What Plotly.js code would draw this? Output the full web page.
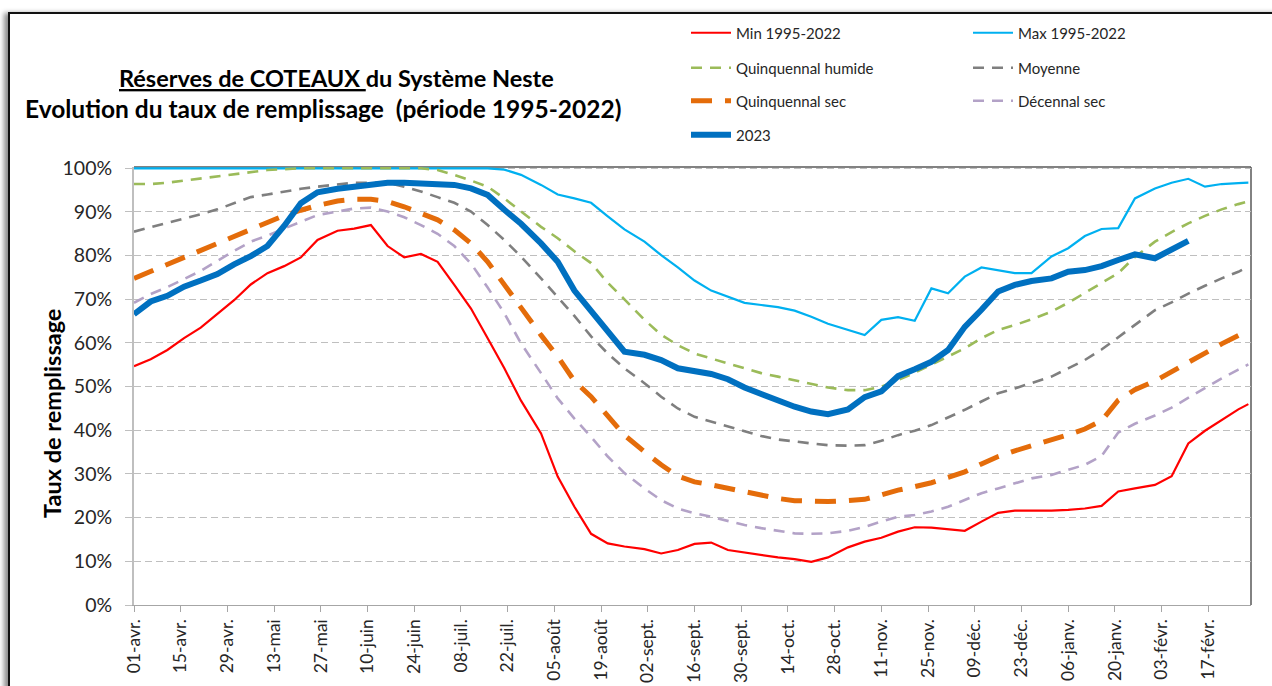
<!DOCTYPE html>
<html><head><meta charset="utf-8">
<script src="https://cdn.plot.ly/plotly-3.0.1.min.js"></script>
<style>
html,body{margin:0;padding:0;background:#fff;overflow:hidden;width:1272px;height:686px}
#chart{position:absolute;left:0;top:0;width:1272px;height:686px}
#frame{position:absolute;left:8px;top:12px;width:1300px;height:700px;border-left:2px solid #111;border-top:2px solid #111;box-shadow:-5px 0 5px -1px rgba(0,0,0,0.45);pointer-events:none}
</style></head><body>
<div id="chart"></div><div id="frame"></div>
<script>
const dates = [
'2022-04-01','2022-04-06','2022-04-11','2022-04-16','2022-04-21','2022-04-26',
'2022-05-01','2022-05-06','2022-05-11','2022-05-16','2022-05-21','2022-05-26',
'2022-06-01','2022-06-06','2022-06-11','2022-06-16','2022-06-21','2022-06-26',
'2022-07-01','2022-07-06','2022-07-11','2022-07-16','2022-07-21','2022-07-26',
'2022-08-01','2022-08-06','2022-08-11','2022-08-16','2022-08-21','2022-08-26',
'2022-09-01','2022-09-06','2022-09-11','2022-09-16','2022-09-21','2022-09-26',
'2022-10-01','2022-10-06','2022-10-11','2022-10-16','2022-10-21','2022-10-26',
'2022-11-01','2022-11-06','2022-11-11','2022-11-16','2022-11-21','2022-11-26',
'2022-12-01','2022-12-06','2022-12-11','2022-12-16','2022-12-21','2022-12-26',
'2023-01-01','2023-01-06','2023-01-11','2023-01-16','2023-01-21','2023-01-26',
'2023-02-01','2023-02-06','2023-02-11','2023-02-16','2023-02-21','2023-02-26',
'2023-03-01'];

const min19952022 = [54.7,56.3,58.4,61.1,63.5,66.6, 69.8,73.4,76.0,77.6,79.6,83.6,
 85.7,86.2,87.0,82.2,79.6,80.4, 78.6,73.3,67.9,61.1,54.2,46.8,
 39.3,29.4,22.5,16.3,14.1,13.4, 12.8,11.8,12.6,14.0,14.3,12.6,
 12.0,11.5,10.9,10.5,9.9,10.9, 13.2,14.5,15.4,16.8,17.8,17.7,
 17.3,17.0,19.1,21.1,21.6,21.6, 21.6,21.8,22.1,22.7,26.0,26.7,
 27.5,29.5,37.0,39.9,42.4,44.8, 46.0];

const max19952022 = [100,100,100,100,100,100, 100,100,100,100,100,100,
 100,100,100,100,100,100, 100,100,100,100,99.7,98.5,
 96.2,94.0,93.1,92.1,89.0,86.0, 83.2,80.1,77.3,74.3,72.0,70.6,
 69.2,68.7,68.2,67.4,66.0,64.4, 63.0,61.8,65.3,65.9,65.1,72.5,
 71.4,75.2,77.3,76.7,76.0,76.0, 79.8,81.7,84.5,86.1,86.3,93.1,
 95.4,96.7,97.6,95.8,96.4,96.6, 96.7];

const quinquennalHumide = [96.4,96.4,96.7,97.2,97.7,98.2, 98.7,99.2,99.6,99.8,100,100,
 100,100,100,100,100,100, 99.6,98.5,97.2,95.8,93.1,90.1,
 86.6,84.0,81.0,78.3,73.8,70.0, 65.3,61.9,59.5,57.6,56.4,55.3,
 54.2,53.1,52.3,51.5,50.7,49.8, 49.2,49.2,50.0,51.5,53.2,55.0,
 56.9,58.8,61.1,63.0,64.1,65.4, 67.2,69.2,71.5,73.7,76.0,79.7,
 83.2,85.4,87.4,89.1,90.6,91.8, 92.4];

const moyenne = [85.5,86.5,87.4,88.4,89.5,90.6, 92.0,93.4,94.0,94.7,95.3,95.8,
 96.3,96.7,96.7,96.7,95.8,94.7, 93.4,92.1,90.1,87.0,83.6,79.8,
 74.8,70.6,66.2,61.5,57.6,54.2, 50.8,47.7,45.0,43.1,42.0,40.8,
 39.7,38.7,37.9,37.4,37.0,36.6, 36.5,36.6,37.6,38.9,39.9,41.2,
 42.9,44.7,46.6,48.5,49.6,50.8, 52.3,54.2,56.1,58.5,61.3,64.2,
 67.5,69.3,71.3,73.1,74.8,76.3, 77.5];

const quinquennalSec = [74.8,76.4,78.0,79.7,81.4,82.9, 84.6,86.3,87.8,89.2,90.4,91.5,
 92.5,92.9,92.9,92.4,91.2,89.7, 88.2,85.9,82.8,78.6,73.3,67.9,
 61.8,56.9,51.3,47.7,43.3,38.9, 35.1,32.1,29.5,28.2,27.5,26.7,
 26.0,25.2,24.4,23.9,23.7,23.7, 23.9,24.2,25.2,26.3,27.1,28.0,
 29.2,30.5,32.3,34.0,35.3,36.4, 37.8,39.0,40.3,42.2,46.9,49.3,
 51.3,53.4,55.6,57.9,59.8,61.7, 62.8];

const decennalSec = [69.2,71.2,72.8,74.6,76.5,78.8, 81.1,83.2,84.6,86.2,87.8,89.3,
 90.1,90.8,91.0,90.1,88.8,87.0, 85.0,82.2,78.2,72.7,66.8,59.9,
 53.1,47.3,42.7,38.5,34.0,30.2, 26.7,24.0,22.1,21.0,20.2,19.3,
 18.3,17.6,17.0,16.4,16.3,16.4, 17.0,17.9,19.1,20.2,20.6,21.4,
 22.5,24.0,25.6,26.7,27.9,29.0, 29.8,30.9,32.1,34.1,39.5,41.5,
 43.4,45.2,47.4,49.8,51.9,53.9, 55.1];

const annee2023 = [66.6,69.5,70.8,72.9,74.3,75.8, 78.0,79.9,82.2,86.8,92.0,94.5,
 95.3,95.8,96.0,96.7,96.7,96.6, 96.4,96.2,95.4,93.9,90.5,87.3,
 82.8,78.6,72.0,67.2,62.6,58.0, 57.3,56.1,54.2,53.4,52.9,51.7,
 49.8,48.3,46.8,45.4,44.3,43.7, 44.8,47.6,48.9,52.4,54.0,55.7,
 58.4,63.7,67.6,71.8,73.3,74.2, 74.8,76.3,76.7,77.6,79.0,80.3,
 79.4,81.5,83.4,null,null,null, null];

const tickDates = ['2022-04-01','2022-04-15','2022-04-29','2022-05-13','2022-05-27','2022-06-10',
 '2022-06-24','2022-07-08','2022-07-22','2022-08-05','2022-08-19','2022-09-02','2022-09-16',
 '2022-09-30','2022-10-14','2022-10-28','2022-11-11','2022-11-25','2022-12-09','2022-12-23',
 '2023-01-06','2023-01-20','2023-02-03','2023-02-17'];
const tickLabels = ['01-avr.','15-avr.','29-avr.','13-mai','27-mai','10-juin','24-juin','08-juil.',
 '22-juil.','05-août','19-août','02-sept.','16-sept.','30-sept.','14-oct.','28-oct.','11-nov.',
 '25-nov.','09-déc.','23-déc.','06-janv.','20-janv.','03-févr.','17-févr.'];
const yTicks = [0,10,20,30,40,50,60,70,80,90,100];
const yTickLabels = ['0%','10%','20%','30%','40%','50%','60%','70%','80%','90%','100%'];

const FONT = 'Lato, "Open Sans", sans-serif';
function tr(name, y, color, width, dash, legend) {
  return {type:'scatter', mode:'lines', x:dates, y:y, name:name, legend:legend,
    line:{color:color, width:width, dash:dash}, connectgaps:false, hoverinfo:'skip'};
}
const traces = [
  tr('Min 1995-2022', min19952022, '#FF0000', 2.2, 'solid', 'legend'),
  tr('Max 1995-2022', max19952022, '#00B0F0', 2.2, 'solid', 'legend'),
  tr('Quinquennal humide', quinquennalHumide, '#9BBB59', 2.6, '11px,8px', 'legend2'),
  tr('Moyenne', moyenne, '#7F7F7F', 2.6, '11px,8px', 'legend2'),
  tr('Quinquennal sec', quinquennalSec, '#E46C0A', 5, '21px,13px', 'legend3'),
  tr('Décennal sec', decennalSec, '#B3A2C7', 2.6, '11px,8px', 'legend3'),
  tr('2023', annee2023, '#0070C0', 6, 'solid', 'legend4')
];

function leg(ycenter) {
  return {orientation:'h', xref:'container', yref:'container', x:686/1272, xanchor:'left',
    y:1 - ycenter/686, yanchor:'middle', entrywidth:227, entrywidthmode:'pixels', itemwidth:40,
    font:{family:FONT, size:15, color:'#262626'}, bgcolor:'rgba(0,0,0,0)', traceorder:'normal',
    itemclick:false, itemdoubleclick:false};
}

const layout = {
  width:1272, height:686,
  margin:{l:134, r:21, t:167, b:81},
  paper_bgcolor:'#ffffff', plot_bgcolor:'#ffffff',
  font:{family:FONT, color:'#262626'},
  showlegend:true,
  legend:leg(33), legend2:leg(68), legend3:leg(101), legend4:leg(135),
  xaxis:{type:'date', range:['2022-04-01','2023-03-01 19:00'], tickmode:'array',
    tickvals:tickDates, ticktext:tickLabels, tickangle:-90,
    tickfont:{family:FONT, size:17.5, color:'#262626'},
    showgrid:false, zeroline:false, showline:true, linecolor:'#A6A6A6', linewidth:1.2,
    ticks:'outside', ticklen:6, tickcolor:'#A6A6A6', tickwidth:1, fixedrange:true},
  yaxis:{range:[0,100.3], tickmode:'array', tickvals:yTicks, ticktext:yTickLabels,
    tickfont:{family:FONT, size:19.5, color:'#262626'}, ticklabelstandoff:9,
    showgrid:true, gridcolor:'#BFBFBF', gridwidth:1, griddash:'7px,4px',
    zeroline:false, showline:true, linecolor:'#BFBFBF', linewidth:2,
    ticks:'outside', ticklen:7, tickcolor:'#BFBFBF', tickwidth:1,
    fixedrange:true},
  shapes:[
    {type:'line', xref:'paper', yref:'paper', x0:0, x1:1, y0:1, y1:1, line:{color:'#595959', width:1.5}, layer:'below'},
    {type:'line', xref:'paper', yref:'paper', x0:1, x1:1, y0:0, y1:1, line:{color:'#595959', width:1.5}, layer:'below'}
  ],
  annotations:[
    {xref:'paper', yref:'paper', x:(336-134)/1117, y:1+(167-78)/438, xanchor:'center', yanchor:'middle',
     text:'<b><u>Réserves de COTEAUX\u00a0</u>du Système Neste</b>', showarrow:false,
     font:{family:FONT, size:23.5, color:'#000'}},
    {xref:'paper', yref:'paper', x:(323-134)/1117, y:1+(167-108)/438, xanchor:'center', yanchor:'middle',
     text:'<b>Evolution du taux de remplissage\u00a0\u00a0(période 1995-2022)</b>', showarrow:false,
     font:{family:FONT, size:24.5, color:'#000'}},
    {xref:'paper', yref:'paper', x:(52-134)/1117, y:(605-414)/438, xanchor:'center', yanchor:'middle',
     text:'<b>Taux de remplissage</b>', textangle:-90, showarrow:false,
     font:{family:FONT, size:23.5, color:'#000'}}
  ]
};
Plotly.newPlot('chart', traces, layout, {displayModeBar:false, staticPlot:true});
</script>
</body></html>
